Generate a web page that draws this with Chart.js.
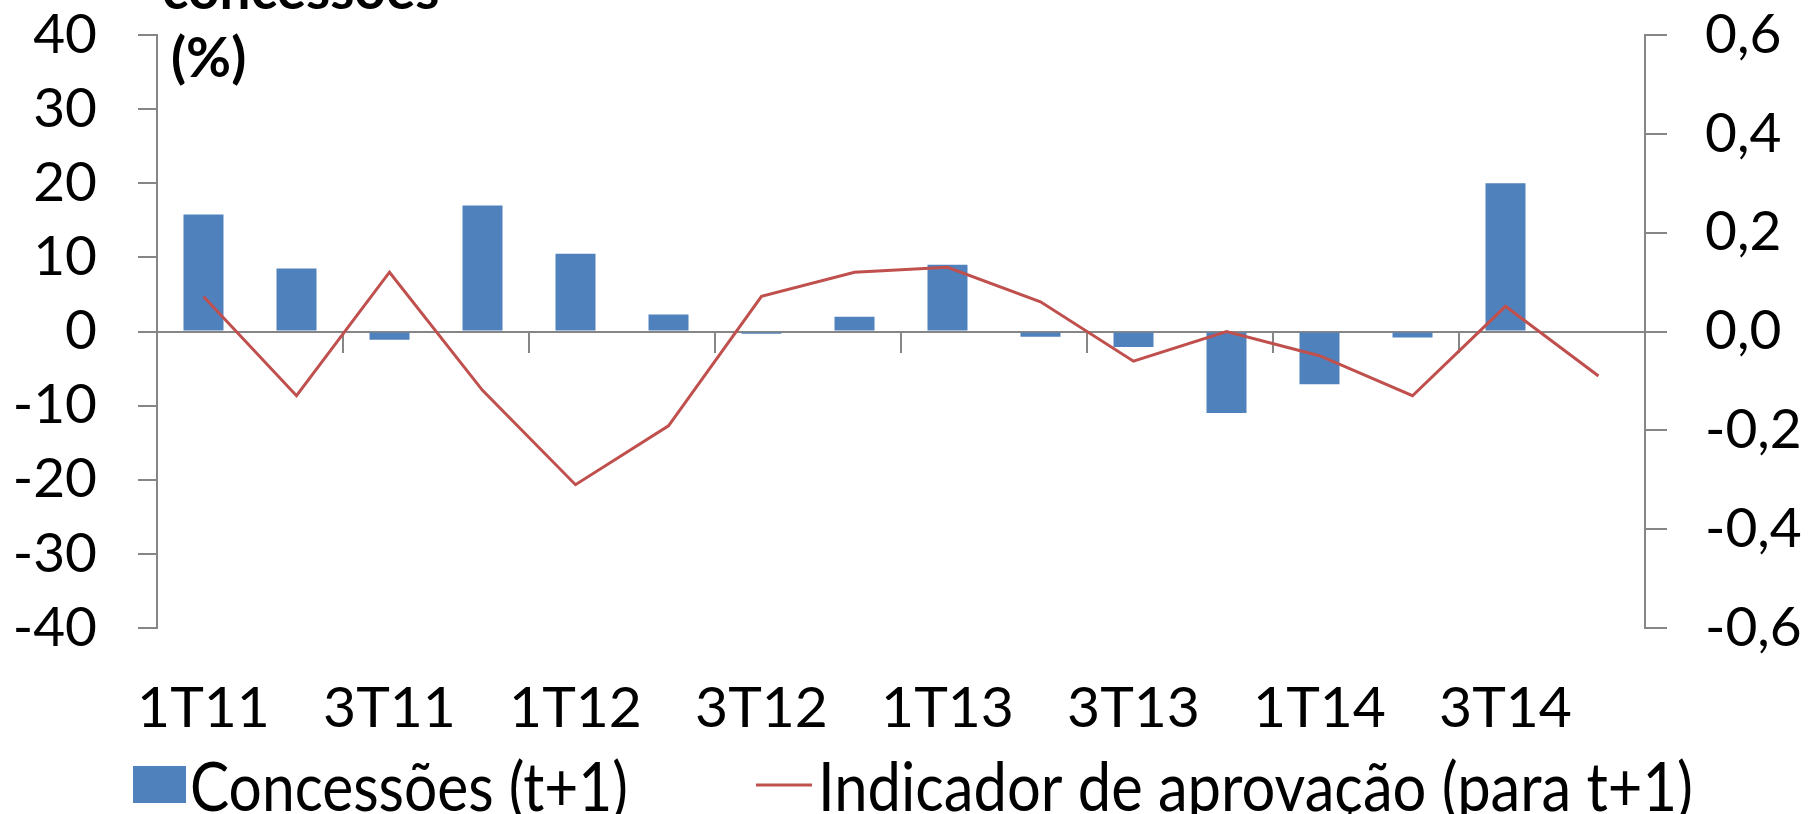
<!DOCTYPE html>
<html>
<head>
<meta charset="utf-8">
<script src="https://cdn.jsdelivr.net/npm/chart.js@4"></script>
<style>
  body { margin: 0; background: #fff; }
  #caixa { position: relative; width: 1810px; height: 814px; }
</style>
</head>
<body>
<div id="caixa"><canvas id="grafico"></canvas></div>
<script>
// dados
const trimestres = ["1T11", "2T11", "3T11", "4T11", "1T12", "2T12", "3T12", "4T12",
  "1T13", "2T13", "3T13", "4T13", "1T14", "2T14", "3T14", "4T14"];
const concessoes = [15.8, 8.5, -1.1, 17.0, 10.5, 2.3, -0.3, 2.0,
  9.0, -0.7, -2.1, -11.0, -7.1, -0.8, 20.0, null];
const indicador = [0.071, -0.130, 0.120, -0.119, -0.310, -0.191, 0.071, 0.120,
  0.130, 0.060, -0.060, 0.0, -0.049, -0.130, 0.051, -0.090];
const tituloLinhas = ["concessões", "(%)"];
const legendaTextos = ["Concessões (t+1)", "Indicador de aprovação (para t+1)"];

const azul = "#4F81BD";
const vermelho = "#C0504D";
const cinza = "#868686";

Chart.defaults.font.family = "Lato";
Chart.defaults.font.size = 55;
Chart.defaults.color = "#000";

// textos extras: titulo cortado e legenda
const textos = {
  id: "textos",
  afterDraw(chart) {
    const ctx = chart.ctx;
    ctx.save();
    ctx.fillStyle = "#000";
    ctx.font = "bold 55px Lato";
    ctx.textBaseline = "alphabetic";
    ctx.fillText(tituloLinhas[0], 162, 9);
    ctx.fillText(tituloLinhas[1], 171, 77);

    // legenda (fonte maior, um pouco comprimida)
    const yLeg = 785;
    const base = 811;
    ctx.font = "68px Lato";
    ctx.fillStyle = azul;
    ctx.fillRect(133, yLeg - 19, 53, 37);
    ctx.fillStyle = "#000";
    ctx.fillText(legendaTextos[0], 190, base, 438);
    ctx.strokeStyle = vermelho;
    ctx.lineWidth = 3;
    ctx.beginPath();
    ctx.moveTo(756, yLeg);
    ctx.lineTo(812, yLeg);
    ctx.stroke();
    ctx.fillText(legendaTextos[1], 818, base, 875);
    ctx.restore();
  }
};

// fixa a folga de cima/baixo dos eixos verticais
const ajustaEixoY = (largura) => (s) => {
  s.width = largura;
  s.paddingTop = 35;
  s.paddingBottom = 0;
};

const ctx = document.getElementById("grafico").getContext("2d");
new Chart(ctx, {
  type: "bar",
  data: {
    labels: trimestres,
    datasets: [
      {
        label: legendaTextos[0],
        data: concessoes,
        backgroundColor: azul,
        xAxisID: "x",
        yAxisID: "y",
        categoryPercentage: 1,
        barPercentage: 0.43,
        order: 2
      },
      {
        type: "line",
        label: legendaTextos[1],
        data: indicador,
        borderColor: vermelho,
        borderWidth: 3,
        pointRadius: 0,
        tension: 0,
        xAxisID: "x",
        yAxisID: "y1",
        order: 1
      }
    ]
  },
  options: {
    responsive: true,
    maintainAspectRatio: false,
    animation: false,
    layout: { padding: 0 },
    plugins: {
      legend: { display: false },
      tooltip: { enabled: false }
    },
    scales: {
      // eixo no zero, só com as marcas
      x: {
        type: "category",
        position: { y: 0 },
        offset: true,
        grid: {
          offset: true,
          drawOnChartArea: false,
          drawTicks: true,
          tickLength: 20,
          lineWidth: 2,
          color: (c) => (c.index % 2 === 0 ? cinza : "rgba(0,0,0,0)")
        },
        border: { display: true, color: cinza, width: 2 },
        ticks: { display: false, autoSkip: false },
        afterFit: (s) => { s.height = 0; }
      },
      // eixo de baixo, só com os rótulos
      x2: {
        type: "category",
        position: "bottom",
        offset: true,
        grid: { display: false },
        border: { display: false },
        ticks: {
          autoSkip: false,
          maxRotation: 0,
          padding: 38,
          font: { size: 57 },
          callback: (v, i) => (i % 2 === 0 ? trimestres[i] : "")
        },
        afterFit: (s) => { s.height = 186; s.paddingLeft = 0; s.paddingRight = 0; }
      },
      y: {
        position: "left",
        min: -40,
        max: 40,
        grid: { drawOnChartArea: false, tickLength: 19, lineWidth: 2, color: cinza },
        border: { color: cinza, width: 2 },
        ticks: { stepSize: 10, padding: 41, autoSkip: false },
        afterFit: ajustaEixoY(157)
      },
      y1: {
        position: "right",
        min: -0.6,
        max: 0.6,
        grid: { drawOnChartArea: false, tickLength: 22, lineWidth: 2, color: cinza },
        border: { color: cinza, width: 2 },
        ticks: {
          stepSize: 0.2,
          padding: 38,
          autoSkip: false,
          callback: (v) => v.toFixed(1).replace(".", ",").replace("-0,0", "0,0")
        },
        afterFit: ajustaEixoY(165)
      }
    }
  },
  plugins: [textos]
});
</script>
</body>
</html>
